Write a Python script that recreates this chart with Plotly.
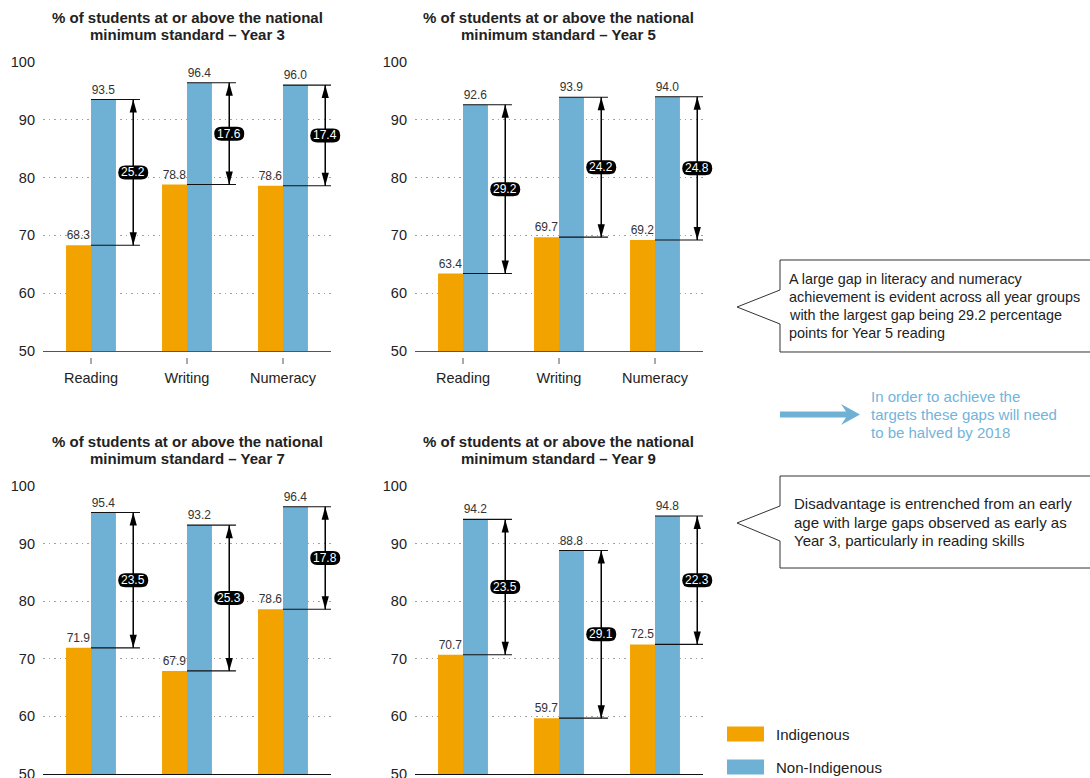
import plotly.graph_objects as go
from plotly.subplots import make_subplots

# ---------------- data ----------------
categories = ["Reading", "Writing", "Numeracy"]
panel_titles = ["Year 3", "Year 5", "Year 7", "Year 9"]
indigenous = {
    "Year 3": [68.3, 78.8, 78.6],
    "Year 5": [63.4, 69.7, 69.2],
    "Year 7": [71.9, 67.9, 78.6],
    "Year 9": [70.7, 59.7, 72.5],
}
non_indigenous = {
    "Year 3": [93.5, 96.4, 96.0],
    "Year 5": [92.6, 93.9, 94.0],
    "Year 7": [95.4, 93.2, 96.4],
    "Year 9": [94.2, 88.8, 94.8],
}
gaps = {
    "Year 3": [25.2, 17.6, 17.4],
    "Year 5": [29.2, 24.2, 24.8],
    "Year 7": [23.5, 25.3, 17.8],
    "Year 9": [23.5, 29.1, 22.3],
}
y_ticks = [50, 60, 70, 80, 90, 100]
series_names = ["Indigenous", "Non-Indigenous"]

# ---------------- style ----------------
W, H = 1090, 778
ORANGE = "#F2A300"
BLUE = "#6FB1D5"
TXT = "#222222"
FONT = "Liberation Sans, Arial, sans-serif"
X_RANGE = [-0.5, 2.5]


def px(x):
    return x / W


def py(y):
    return 1 - y / H


# panel pixel boxes: (left, right, top, bottom)
boxes = [(43, 331, 62, 351), (415, 703, 62, 351), (43, 331, 486, 774), (415, 703, 486, 774)]
title_y = [17, 17, 441, 441]

fig = make_subplots(rows=2, cols=2)

shapes = []
annotations = []
label_annots = []

for k, yr in enumerate(panel_titles):
    r, c = k // 2 + 1, k % 2 + 1
    xs = list(range(len(categories)))
    fig.add_trace(go.Bar(x=xs, y=indigenous[yr], width=0.26, offset=-0.26,
                         marker=dict(color=ORANGE, line=dict(width=0)),
                         text=[f"{v:.1f}" for v in indigenous[yr]], textposition="outside",
                         textfont=dict(size=12, color="#333", family=FONT),
                         constraintext="none", cliponaxis=False,
                         name=series_names[0], showlegend=False), row=r, col=c)
    fig.add_trace(go.Bar(x=xs, y=non_indigenous[yr], width=0.26, offset=0,
                         marker=dict(color=BLUE, line=dict(width=0)),
                         text=[f"{v:.1f}" for v in non_indigenous[yr]], textposition="outside",
                         textfont=dict(size=12, color="#333", family=FONT),
                         constraintext="none", cliponaxis=False,
                         name=series_names[1], showlegend=False), row=r, col=c)

    L, R, T, B = boxes[k]
    axn = "" if k == 0 else str(k + 1)
    xref, yref = "x" + axn, "y" + axn
    fig.layout["xaxis" + axn].update(domain=[px(L), px(R)], range=X_RANGE,
                                     tickvals=xs, ticktext=categories, ticks="",
                                     showticklabels=(k < 2), automargin=False,
                                     showline=True, linecolor="#555" if k < 2 else "#111",
                                     linewidth=1.3, showgrid=False, zeroline=False,
                                     ticklabelstandoff=13,
                                     tickfont=dict(size=14.5, color=TXT, family=FONT))
    fig.layout["yaxis" + axn].update(domain=[py(B), py(T)], range=[50, 100],
                                     tickvals=y_ticks, ticks="", showline=False,
                                     automargin=False, ticklabeloverflow="allow",
                                     showgrid=True, gridcolor="#A0A0A0", griddash="1.5px,4px",
                                     gridwidth=1, zeroline=False,
                                     ticklabelstandoff=7,
                                     tickfont=dict(size=14.5, color=TXT, family=FONT))

    # tick marks below axis (with gap)
    ph = B - T
    for i in xs:
        shapes.append(dict(type="line", xref=xref, yref=yref + " domain",
                           x0=i, x1=i, y0=-7 / ph, y1=-13 / ph,
                           line=dict(color="#555", width=1)))

    for i in xs:
        lo, hi = indigenous[yr][i], non_indigenous[yr][i]
        for v in (lo, hi):
            shapes.append(dict(type="line", xref=xref, yref=yref, x0=i, x1=i + 0.51,
                               y0=v, y1=v, layer="above",
                               line=dict(color="#111", width=1.1)))
        mid = (lo + hi) / 2
        # gap marker (x given as axis-domain fraction so it is not clipped at the plot edge)
        xd = (i + 0.44 - X_RANGE[0]) / (X_RANGE[1] - X_RANGE[0])
        shapes.append(dict(type="line", xref=xref + " domain", yref=yref, x0=xd, x1=xd,
                           y0=lo, y1=hi, layer="above", line=dict(color="#000", width=1.5)))
        shapes.append(dict(type="path", xref=xref + " domain", yref=yref, xsizemode="pixel",
                           ysizemode="pixel", xanchor=xd, yanchor=hi, layer="above",
                           path="M 0,0 L -3.6,-13 L 3.6,-13 Z", fillcolor="#000", line=dict(width=0)))
        shapes.append(dict(type="path", xref=xref + " domain", yref=yref, xsizemode="pixel",
                           ysizemode="pixel", xanchor=xd, yanchor=lo, layer="above",
                           path="M 0,0 L -3.6,13 L 3.6,13 Z", fillcolor="#000", line=dict(width=0)))
        shapes.append(dict(type="path", xref=xref + " domain", yref=yref, xsizemode="pixel",
                           ysizemode="pixel", xanchor=xd, yanchor=mid, layer="above",
                           path="M -8,-7 L 8,-7 Q 15,-7 15,0 Q 15,7 8,7 L -8,7 Q -15,7 -15,0 Q -15,-7 -8,-7 Z",
                           fillcolor="#000", line=dict(width=0)))
        label_annots.append(dict(xref=xref, yref=yref, x=i + 0.44, y=mid,
                                 text=f"{gaps[yr][i]:.1f}", showarrow=False,
                                 font=dict(size=12, color="white", family=FONT)))

    for n, line in enumerate(["% of students at or above the national", "minimum standard – " + yr]):
        annotations.append(dict(xref="paper", yref="paper", x=px((L + R) / 2), y=py(title_y[k] + 17.5 * n),
                                text="<b>" + line + "</b>",
                                showarrow=False, xanchor="center", yanchor="middle",
                                font=dict(size=15, color=TXT, family=FONT)))


def poly(pts):
    return "M " + " L ".join(f"{px(x):.5f},{py(y):.5f}" for x, y in pts) + " Z"


# callout boxes
shapes.append(dict(type="path", xref="paper", yref="paper", layer="above",
                   path=poly([(780, 260), (1100, 260), (1100, 352), (780, 352), (780, 324), (737, 307), (780, 290)]),
                   fillcolor="white", line=dict(color="#333", width=1)))
shapes.append(dict(type="path", xref="paper", yref="paper", layer="above",
                   path=poly([(780, 476), (1100, 476), (1100, 568), (780, 568), (780, 541), (737, 523), (780, 506)]),
                   fillcolor="white", line=dict(color="#333", width=1)))
# blue arrow
shapes.append(dict(type="path", xref="paper", yref="paper", layer="above",
                   path=poly([(780, 411.5), (846, 411.5), (841, 404), (860, 414.5), (841, 425), (846, 417.5), (780, 417.5)]),
                   fillcolor=BLUE, line=dict(width=0)))


def text_lines(lines, x, y0, color, size=15, step=18):
    for n, t in enumerate(lines):
        annotations.append(dict(xref="paper", yref="paper", x=px(x), y=py(y0 + n * step),
                                xanchor="left", yanchor="middle", showarrow=False, text=t,
                                font=dict(size=size, color=color, family=FONT)))


text_lines(["A large gap in literacy and numeracy",
            "achievement is evident across all year groups",
            "with the largest gap being 29.2 percentage",
            "points for Year 5 reading"], 787, 279, TXT, size=14.4)
text_lines(["Disadvantage is entrenched from an early",
            "age with large gaps observed as early as",
            "Year 3, particularly in reading skills"], 792, 504, TXT)
text_lines(["In order to achieve the",
            "targets these gaps will need",
            "to be halved by 2018"], 869, 396, "#72B4DA")

# legend
for j, (nm, col, yc) in enumerate([(series_names[0], ORANGE, 734), (series_names[1], BLUE, 767)]):
    shapes.append(dict(type="rect", xref="paper", yref="paper", x0=px(727), x1=px(764),
                       y0=py(yc - 7.5), y1=py(yc + 7.5), fillcolor=col, line=dict(width=0)))
    annotations.append(dict(xref="paper", yref="paper", x=px(774), y=py(yc), xanchor="left",
                            yanchor="middle", showarrow=False, text=nm,
                            font=dict(size=15, color=TXT, family=FONT)))

fig.update_layout(width=W, height=H, margin=dict(l=0, r=0, t=0, b=0, autoexpand=False),
                  paper_bgcolor="white", plot_bgcolor="white", barmode="overlay",
                  showlegend=False, shapes=shapes,
                  annotations=annotations + label_annots,
                  font=dict(family=FONT, color=TXT))

fig.write_html("out.html", config={"displayModeBar": False, "responsive": False},
               post_script="document.body.style.margin='0';document.body.style.overflow='hidden';")
